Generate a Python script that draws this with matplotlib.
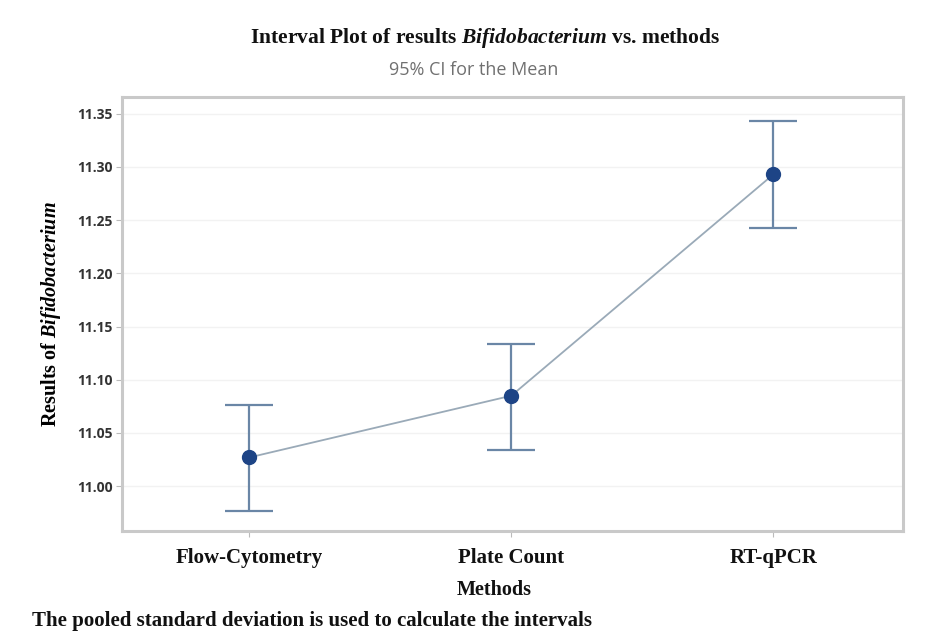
import matplotlib
matplotlib.use('Agg')
import matplotlib.pyplot as plt

# Data
methods = ['Flow-Cytometry', 'Plate Count', 'RT-qPCR']
means = [11.027, 11.085, 11.293]
ci_lower = [10.977, 11.034, 11.243]
ci_upper = [11.076, 11.134, 11.343]
y_ticks = [11.00, 11.05, 11.10, 11.15, 11.20, 11.25, 11.30, 11.35]

plt.rcParams['mathtext.fontset'] = 'custom'
plt.rcParams['mathtext.rm'] = 'Liberation Serif:bold'
plt.rcParams['mathtext.it'] = 'Liberation Serif:italic:bold'
plt.rcParams['mathtext.bf'] = 'Liberation Serif:bold'

fig = plt.figure(figsize=(9.32, 6.32), dpi=100)
ax = fig.add_axes([0.131, 0.160, 0.838, 0.687])

x = list(range(len(methods)))
err_low = [m - lo for m, lo in zip(means, ci_lower)]
err_high = [hi - m for m, hi in zip(means, ci_upper)]

# connecting line
ax.plot(x, means, color='#9aaab8', linewidth=1.3, zorder=2)
# intervals
ax.errorbar(x, means, yerr=[err_low, err_high], fmt='none', ecolor='#6a86a6',
            elinewidth=1.6, capsize=17, capthick=1.6, zorder=3)
# means
ax.plot(x, means, 'o', color='#1d4486', markersize=10, zorder=4)

ax.set_xlim(-0.485, 2.495)
ax.set_ylim(10.958, 11.366)
ax.set_yticks(y_ticks)
ax.set_yticklabels([f'{v:.2f}' for v in y_ticks], fontfamily='Open Sans',
                   fontweight='bold', fontsize=10, color='#333333')
ax.set_xticks(x)
ax.set_xticklabels(methods, fontfamily='Liberation Serif', fontweight='bold',
                   fontsize=15, color='#111111')
ax.tick_params(axis='y', length=4, color='#bbbbbb', pad=3)
ax.tick_params(axis='x', length=4, color='#bbbbbb', pad=8)

ax.grid(axis='y', color='#f2f2f2', linewidth=1)
ax.set_axisbelow(True)
for s in ax.spines.values():
    s.set_color('#c9c9c9')
    s.set_linewidth(2.2)

ax.set_ylabel(r'Results of $\it{Bifidobacterium}$', fontfamily='Liberation Serif',
              fontweight='bold', fontsize=14.5, labelpad=10)
fig.text(0.530, 0.066, 'Methods', ha='center', va='center',
         fontfamily='Liberation Serif', fontweight='bold', fontsize=14.5, color='#111111')

fig.text(0.521, 0.940, r'Interval Plot of results $\it{Bifidobacterium}$ vs. methods',
         ha='center', va='center', fontfamily='Liberation Serif', fontweight='bold',
         fontsize=15.5, color='#111111')
fig.text(0.508, 0.890, '95% CI for the Mean', ha='center', va='center',
         fontfamily='Open Sans', fontsize=13, color='#707070')
fig.text(0.034, 0.017, 'The pooled standard deviation is used to calculate the intervals',
         ha='left', va='center', fontfamily='Liberation Serif', fontweight='bold',
         fontsize=15, color='#111111')

fig.savefig('out.png', dpi=100)
